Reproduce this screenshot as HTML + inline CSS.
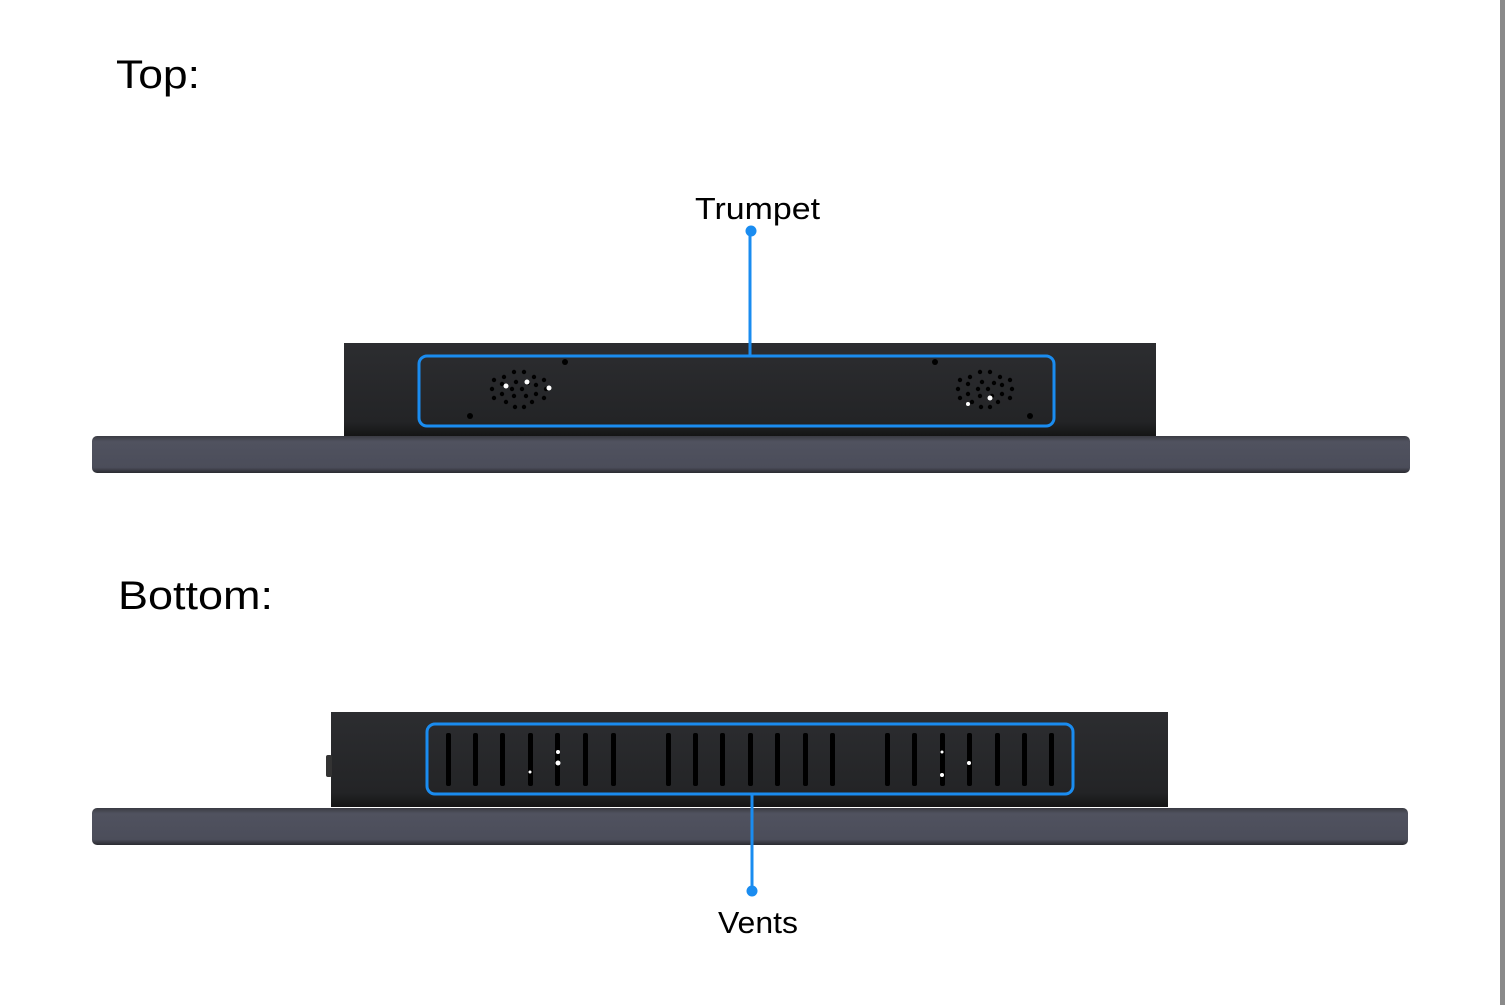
<!DOCTYPE html>
<html><head><meta charset="utf-8"><style>
html,body{margin:0;padding:0;background:#fff;width:1505px;height:1005px;overflow:hidden}
svg{display:block}
text{font-family:"Liberation Sans","Noto Sans CJK SC",sans-serif;fill:#000}
</style></head><body>
<svg width="1505" height="1005" viewBox="0 0 1505 1005" xmlns="http://www.w3.org/2000/svg">
<defs>
<linearGradient id="box" x1="0" y1="0" x2="0" y2="1">
<stop offset="0" stop-color="#2c2d30"/><stop offset="0.85" stop-color="#232426"/><stop offset="1" stop-color="#151515"/></linearGradient>
<linearGradient id="bez" x1="0" y1="0" x2="0" y2="1">
<stop offset="0" stop-color="#3a3b42"/><stop offset="0.15" stop-color="#50525f"/><stop offset="0.85" stop-color="#4b4d5a"/><stop offset="1" stop-color="#2a2b30"/></linearGradient>
<g id="spk" fill="#000">
<circle cx="-4" cy="-16" r="2.2"/><circle cx="6" cy="-16" r="2.2"/>
<circle cx="-14" cy="-11" r="2.2"/><circle cx="16" cy="-11" r="2.2"/>
<circle cx="-24" cy="-8" r="2.2"/><circle cx="26" cy="-8" r="2.2"/>
<circle cx="-16" cy="-4" r="2.2"/><circle cx="-2" cy="-6" r="2.2"/><circle cx="10" cy="-5" r="2.2"/><circle cx="18" cy="-3" r="2.2"/>
<circle cx="-26" cy="1" r="2.2"/><circle cx="-6" cy="1" r="2.2"/><circle cx="4" cy="1" r="2.2"/><circle cx="28" cy="1" r="2.2"/>
<circle cx="-16" cy="6" r="2.2"/><circle cx="-4" cy="8" r="2.2"/><circle cx="8" cy="8" r="2.2"/><circle cx="18" cy="6" r="2.2"/>
<circle cx="-24" cy="10" r="2.2"/><circle cx="26" cy="10" r="2.2"/>
<circle cx="-12" cy="14" r="2.2"/><circle cx="14" cy="14" r="2.2"/>
<circle cx="-3" cy="19" r="2.2"/><circle cx="6" cy="19" r="2.2"/>
</g>
</defs>
<rect x="1500" y="0" width="5" height="1005" fill="#8a8a8a"/>
<text x="116" y="88" font-size="40" textLength="84" lengthAdjust="spacingAndGlyphs">Top:</text>
<text x="118" y="609" font-size="40" textLength="155" lengthAdjust="spacingAndGlyphs">Bottom:</text>

<!-- top device -->
<rect x="344" y="343" width="812" height="93" fill="url(#box)"/>
<rect x="92" y="436" width="1318" height="37" rx="5" fill="url(#bez)"/>
<g fill="#000">
<circle cx="565" cy="362" r="3"/><circle cx="470" cy="416" r="3"/>
<circle cx="935" cy="362" r="3"/><circle cx="1030" cy="416" r="3"/>
</g>
<use href="#spk" x="518" y="388"/>
<use href="#spk" x="984" y="388"/>
<g fill="#fff"><circle cx="506" cy="386" r="2.5"/><circle cx="527" cy="382" r="2.5"/><circle cx="549" cy="388" r="2.5"/><circle cx="990" cy="398" r="2.5"/><circle cx="968" cy="404" r="2"/></g>
<rect x="419" y="356" width="635" height="70" rx="8" fill="none" stroke="#1a8cf0" stroke-width="3"/>
<line x1="750" y1="231" x2="750" y2="356" stroke="#1a8cf0" stroke-width="3"/>
<circle cx="751" cy="231" r="5.5" fill="#1a8cf0"/>
<text x="695" y="219" font-size="31" textLength="125" lengthAdjust="spacingAndGlyphs">Trumpet</text>

<!-- bottom device -->
<rect x="331" y="712" width="837" height="95" fill="url(#box)"/>
<rect x="326" y="755" width="6" height="22" rx="2" fill="#333"/>
<rect x="92" y="808" width="1316" height="37" rx="5" fill="url(#bez)"/>
<g fill="#000">
<rect x="446" y="733" width="5" height="53" rx="2"/><rect x="473" y="733" width="5" height="53" rx="2"/><rect x="500" y="733" width="5" height="53" rx="2"/><rect x="528" y="733" width="5" height="53" rx="2"/><rect x="555" y="733" width="5" height="53" rx="2"/><rect x="583" y="733" width="5" height="53" rx="2"/><rect x="611" y="733" width="5" height="53" rx="2"/>
<rect x="666" y="733" width="5" height="53" rx="2"/><rect x="693" y="733" width="5" height="53" rx="2"/><rect x="720" y="733" width="5" height="53" rx="2"/><rect x="748" y="733" width="5" height="53" rx="2"/><rect x="775" y="733" width="5" height="53" rx="2"/><rect x="803" y="733" width="5" height="53" rx="2"/><rect x="830" y="733" width="5" height="53" rx="2"/>
<rect x="885" y="733" width="5" height="53" rx="2"/><rect x="912" y="733" width="5" height="53" rx="2"/><rect x="940" y="733" width="5" height="53" rx="2"/><rect x="967" y="733" width="5" height="53" rx="2"/><rect x="995" y="733" width="5" height="53" rx="2"/><rect x="1022" y="733" width="5" height="53" rx="2"/><rect x="1049" y="733" width="5" height="53" rx="2"/>
</g>
<g fill="#fff"><circle cx="558" cy="752" r="2"/><circle cx="558" cy="763" r="2.5"/><circle cx="530" cy="772" r="1.5"/><circle cx="942" cy="752" r="1.5"/><circle cx="969" cy="763" r="2"/><circle cx="942" cy="775" r="2"/></g>
<rect x="427" y="724" width="646" height="70" rx="8" fill="none" stroke="#1a8cf0" stroke-width="3"/>
<line x1="752" y1="794" x2="752" y2="891" stroke="#1a8cf0" stroke-width="3"/>
<circle cx="752" cy="891" r="5.5" fill="#1a8cf0"/>
<text x="718" y="933" font-size="31" textLength="80" lengthAdjust="spacingAndGlyphs">Vents</text>
</svg>
</body></html>
